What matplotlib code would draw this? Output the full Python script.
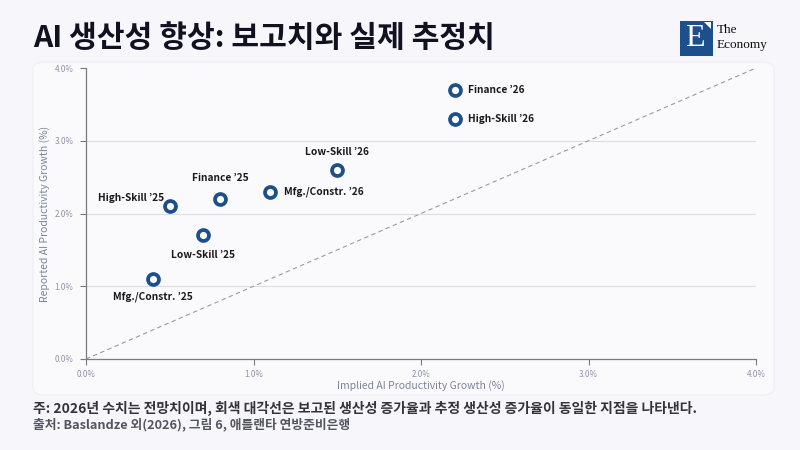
import numpy as np
import matplotlib
matplotlib.use("Agg")
import matplotlib.pyplot as plt
from matplotlib.patches import FancyBboxPatch, Rectangle, Polygon

plt.rcParams['font.family'] = ['Noto Sans CJK KR', 'DejaVu Sans']

# data (%)
labels = ["Mfg./Constr. ’25", "High-Skill ’25", "Low-Skill ’25", "Finance ’25",
          "Mfg./Constr. ’26", "Low-Skill ’26", "Finance ’26", "High-Skill ’26"]
implied = [0.4, 0.5, 0.7, 0.8, 1.1, 1.5, 2.2, 2.2]
reported = [1.1, 2.1, 1.7, 2.2, 2.3, 2.6, 3.7, 3.3]
ticks = [0, 1, 2, 3, 4]
tick_labels = ["0.0%", "1.0%", "2.0%", "3.0%", "4.0%"]

# label placement: (dx, dy) in points, ha, va
place = [(0, -13, 'center', 'center'),
         (-4, 6, 'right', 'center'),
         (0, -14, 'center', 'center'),
         (0, 15, 'center', 'center'),
         (10, 0, 'left', 'center'),
         (0, 13, 'center', 'center'),
         (10, 0, 'left', 'center'),
         (10, 0, 'left', 'center')]

bg = '#f6f6fb'
fig = plt.figure(figsize=(8, 4.5), dpi=100, facecolor=bg)

# card behind the chart
card = FancyBboxPatch((33/800, 1-395/450), 741/800, 333/450,
                      boxstyle="round,pad=0,rounding_size=0.015",
                      transform=fig.transFigure, facecolor='#fafafd',
                      edgecolor='#eeeef4', lw=0.8, zorder=0)
fig.patches.append(card)

ax = fig.add_axes([86/800, 1-359/450, 670/800, 291/450])
ax.set_zorder(3)
ax.set_facecolor('none')
ax.set_xlim(0, 4)
ax.set_ylim(0, 4)

for y in [1, 2, 3]:
    ax.axhline(y, color='#dcdce3', lw=0.8, zorder=1)
ax.plot([0, 4], [0, 4], ls=(0, (4, 3)), color='#9a9aa2', lw=0.8, zorder=2)

ax.scatter(implied, reported, s=62, facecolor='white', edgecolor='#1d4f8a',
           linewidths=2.7, zorder=4)

for lab, x, y, (dx, dy, ha, va) in zip(labels, implied, reported, place):
    ax.annotate(lab, (x, y), xytext=(dx, dy), textcoords='offset points',
                ha=ha, va=va, fontsize=7.3, fontweight='bold', color='#1a1a1a', zorder=5)

ax.set_xticks(ticks)
ax.set_xticklabels(tick_labels)
ax.set_yticks(ticks)
ax.set_yticklabels(tick_labels)
ax.tick_params(labelsize=5.8, colors='#8f93a8', length=4, width=0.8)
ax.tick_params(axis='x', pad=4)
ax.tick_params(axis='y', pad=5)
ax.tick_params(axis='both', color='#7a7a80')
for s in ['top', 'right']:
    ax.spines[s].set_visible(False)
for s in ['left', 'bottom']:
    ax.spines[s].set_color('#7a7a80')
    ax.spines[s].set_linewidth(0.9)

ax.set_xlabel('Implied AI Productivity Growth (%)', fontsize=7.5, color='#7d8299', labelpad=1)
ax.set_ylabel('Reported AI Productivity Growth (%)', fontsize=7.5, color='#7d8299', labelpad=3)

# title
fig.text(33/800, 1-38/450, 'AI 생산성 향상: 보고치와 실제 추정치', fontsize=21.7,
         fontweight='black', color='#111122', va='center', ha='left')

# note and source
fig.text(33/800, 1-408/450, '주: 2026년 수치는 전망치이며, 회색 대각선은 보고된 생산성 증가율과 추정 생산성 증가율이 동일한 지점을 나타낸다.',
         fontsize=10, fontweight='bold', color='#333338', va='center', ha='left')
fig.text(33/800, 1-425/450, '출처: Baslandze 외(2026), 그림 6, 애틀랜타 연방준비은행',
         fontsize=9.2, fontweight='bold', color='#555560', va='center', ha='left')

# logo
fig.patches.append(Rectangle((680/800, 1-56/450), 33/800, 35/450, transform=fig.transFigure,
                             facecolor='#1c4f8c', edgecolor='none'))
fig.patches.append(Polygon([(704/800, 1-22/450), (711/800, 1-22/450), (711/800, 1-29/450)],
                           closed=True, transform=fig.transFigure, facecolor='white', edgecolor='none'))
fig.text(695/800, 1-39/450, 'E', family='Liberation Serif', fontsize=23, color='white',
         ha='center', va='center')
fig.text(717/800, 1-30/450, 'The', family='Liberation Serif', fontsize=9.5, color='#111111',
         ha='left', va='center')
fig.text(717/800, 1-45/450, 'Economy', family='Liberation Serif', fontsize=9.5, color='#111111',
         ha='left', va='center')

plt.savefig('out.png', dpi=100, facecolor=bg)
plt.close()
